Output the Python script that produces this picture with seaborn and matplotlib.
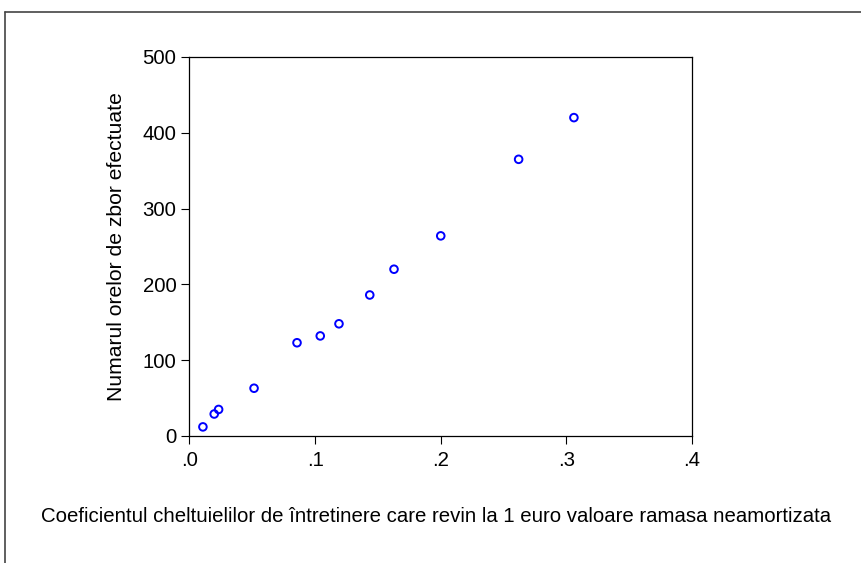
import matplotlib
matplotlib.use("Agg")
import matplotlib.pyplot as plt
from matplotlib.lines import Line2D
from matplotlib.ticker import FuncFormatter
import pandas as pd
import seaborn as sns

# coeficientul cheltuielilor de intretinere / ore de zbor
coef = [0.0107, 0.0197, 0.0232, 0.0514, 0.0856, 0.1041, 0.119, 0.1435, 0.1628, 0.200, 0.262, 0.306]
ore = [12, 29, 35, 63, 123, 132, 148, 186, 220, 264, 365, 420]
xticks = [0.0, 0.1, 0.2, 0.3, 0.4]
yticks = [0, 100, 200, 300, 400, 500]

df = pd.DataFrame({"coef": coef, "ore": ore})

sns.set_style("ticks")
plt.rcParams["font.family"] = ["Liberation Sans", "DejaVu Sans"]
plt.rcParams["text.color"] = "black"
plt.rcParams["axes.labelcolor"] = "black"

fig = plt.figure(figsize=(8.62, 5.63), dpi=100)
ax = fig.add_axes([0.2198, 0.2256, 0.5830, 0.6732])

sns.scatterplot(
    data=df, x="coef", y="ore", ax=ax, marker="o", s=30,
    facecolor="none", edgecolor="#0000ff", linewidth=1.4, zorder=3,
)

ax.set_xlim(0, 0.4)
ax.set_ylim(0, 500)
ax.set_xticks(xticks)
ax.set_yticks(yticks)
ax.xaxis.set_major_formatter(FuncFormatter(lambda v, p: ("%.1f" % v).lstrip("0")))
ax.tick_params(direction="out", length=6, width=0.8, labelsize=14.7, colors="black")
ax.tick_params(axis="x", pad=4.8)
ax.tick_params(axis="y", pad=3.5)

for s in ax.spines.values():
    s.set_visible(True)
    s.set_linewidth(0.9)
    s.set_color("black")

ax.set_xlabel("")
ax.set_ylabel("Numarul orelor de zbor efectuate", fontsize=15.2, labelpad=12)
fig.text(0.506, 1 - 516 / 563,
         "Coeficientul cheltuielilor de întretinere care revin la 1 euro valoare ramasa neamortizata",
         ha="center", va="center", fontsize=14.7)

# outer frame (top and left edges only)
fig.add_artist(Line2D([5 / 862, 1.0], [1 - 11.5 / 563, 1 - 11.5 / 563],
                      transform=fig.transFigure, color="#444444", linewidth=1.2))
fig.add_artist(Line2D([5 / 862, 5 / 862], [1 - 11.5 / 563, 0.0],
                      transform=fig.transFigure, color="#444444", linewidth=1.2))

fig.savefig("out.png", dpi=100, facecolor="white")
